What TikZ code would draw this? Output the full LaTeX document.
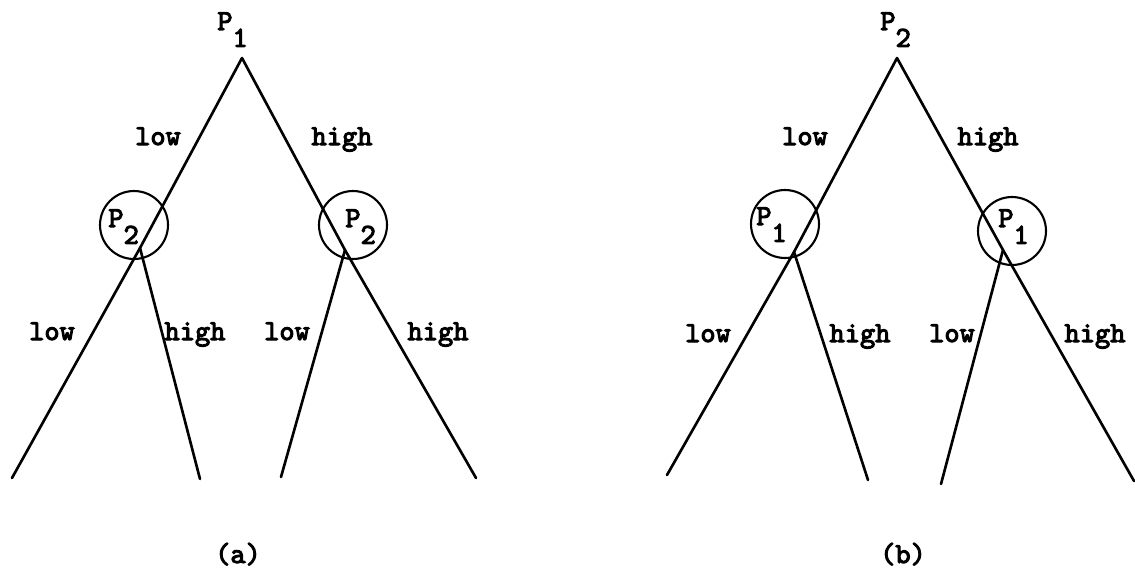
\documentclass[tikz,border=0pt]{standalone}
\usepackage{fontspec}
\newfontfamily\treefont{lmmono10-regular.otf}[FakeBold=3.5]
\newcommand{\pl}[1]{P\raisebox{-0.58em}{#1}}
\tikzset{
  branch/.style={line width=1.5pt, line cap=round},
  infoset/.style={circle, draw, line width=1.2pt, minimum size=1.36cm, inner sep=0pt},
  lbl/.style={inner sep=0pt, anchor=base, font=\treefont\fontsize{16.5}{18}\selectfont},
  plbl/.style={lbl, anchor=base west},
}
\begin{document}
\begin{tikzpicture}[x=0.02cm, y=-0.02cm]
  \useasboundingbox (0,0) rectangle (1135,571);

  %tree (a): P1 moves first
  \coordinate (aroot) at (242,58);
  \node[plbl] (aP) at (217,30) {\pl{1}};
  \node[infoset] (aLc) at (134,225) {};
  \node[infoset] (aRc) at (353,225) {};
  \node[plbl] (aLp) at (108,227) {\pl{2}};
  \node[plbl] (aRp) at (345,227) {\pl{2}};
  \coordinate (aL) at (140,248);
  \coordinate (aR) at (345,250);
  \coordinate (aLL) at (12,478);
  \coordinate (aLH) at (200,479);
  \coordinate (aRL) at (281,477);
  \coordinate (aRH) at (476,478);
  \draw[branch] (aroot) -- (aL);
  \draw[branch] (aroot) -- (aR);
  \draw[branch] (aL) -- (aLL);
  \draw[branch] (aL) -- (aLH);
  \draw[branch] (aR) -- (aRL);
  \draw[branch] (aR) -- (aRH);
  \node[lbl] (alow) at (158,145) {low};
  \node[lbl] (ahigh) at (342,145) {high};
  \node[lbl] (aLlow) at (52,340) {low};
  \node[lbl] (aLhigh) at (195,340) {high};
  \node[lbl] (aRlow) at (287,340) {low};
  \node[lbl] (aRhigh) at (438,340) {high};
  \node[lbl] (acap) at (238,563) {(a)};

  %tree (b): P2 moves first
  \coordinate (broot) at (897,58);
  \node[plbl] (bP) at (880,30) {\pl{2}};
  \node[infoset] (bLc) at (785,224) {};
  \node[infoset] (bRc) at (1012,231) {};
  \node[plbl] (bLp) at (756,225) {\pl{1}};
  \node[plbl] (bRp) at (998,227) {\pl{1}};
  \coordinate (bL) at (794,252);
  \coordinate (bR) at (1003,250);
  \coordinate (bLL) at (667,475);
  \coordinate (bLH) at (868,480);
  \coordinate (bRL) at (941,484);
  \coordinate (bRH) at (1134,481);
  \draw[branch] (broot) -- (bL);
  \draw[branch] (broot) -- (bR);
  \draw[branch] (bL) -- (bLL);
  \draw[branch] (bL) -- (bLH);
  \draw[branch] (bR) -- (bRL);
  \draw[branch] (bR) -- (bRH);
  \node[lbl] (blow) at (805,145) {low};
  \node[lbl] (bhigh) at (988,145) {high};
  \node[lbl] (bLlow) at (708,342) {low};
  \node[lbl] (bLhigh) at (860,342) {high};
  \node[lbl] (bRlow) at (952,342) {low};
  \node[lbl] (bRhigh) at (1095,342) {high};
  \node[lbl] (bcap) at (903,563) {(b)};
\end{tikzpicture}
\end{document}
